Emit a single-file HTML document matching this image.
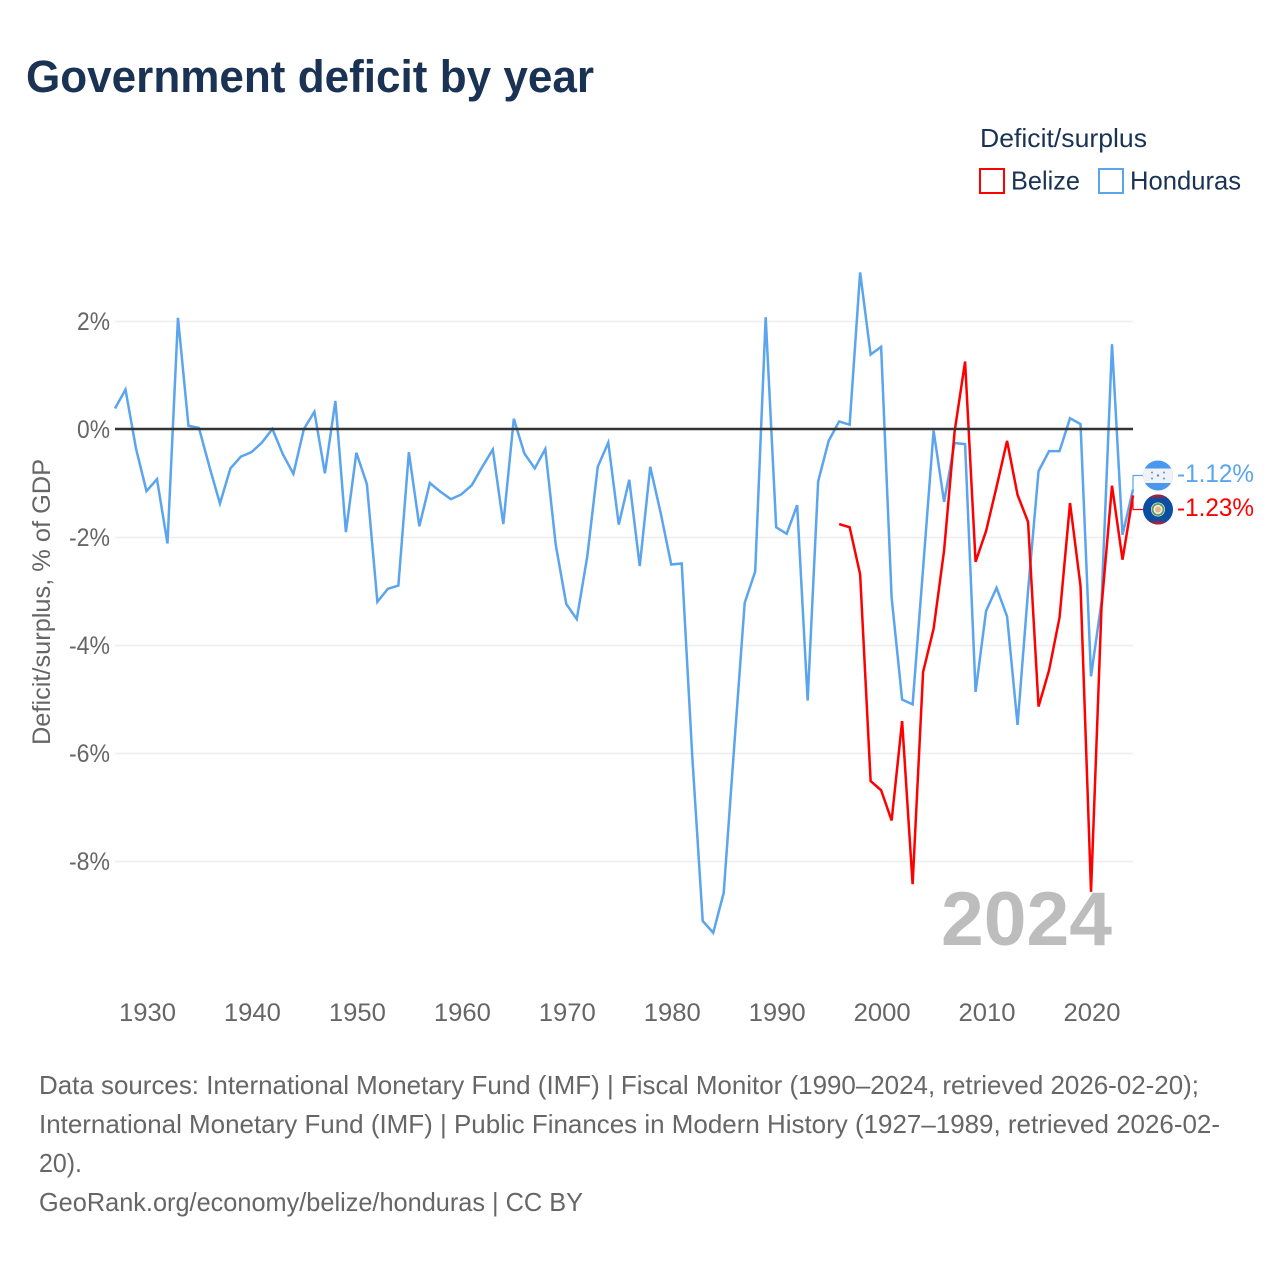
<!DOCTYPE html>
<html lang="en">
<head>
<meta charset="utf-8">
<title>Government deficit by year</title>
<style>
html,body{margin:0;padding:0;background:#fff;width:1280px;height:1280px;overflow:hidden}
svg{display:block;font-family:"Liberation Sans",sans-serif}
</style>
</head>
<body>
<svg id="chart" width="1280" height="1280" viewBox="0 0 1280 1280" xmlns="http://www.w3.org/2000/svg">
  <rect width="1280" height="1280" fill="#fff"/>
  <text x="26" y="92" font-size="45" font-weight="bold" fill="#1a3354" textLength="568" lengthAdjust="spacingAndGlyphs">Government deficit by year</text>

  <g>
    <text x="980" y="147" font-size="26" fill="#1a3354" textLength="167" lengthAdjust="spacingAndGlyphs">Deficit/surplus</text>
    <rect x="980" y="169" width="24" height="24" fill="#fff" stroke="#ff0000" stroke-width="2"/>
    <text x="1011" y="189.5" font-size="26" fill="#1a3354" textLength="69" lengthAdjust="spacingAndGlyphs">Belize</text>
    <rect x="1099" y="169" width="24" height="24" fill="#fff" stroke="#5ba4ee" stroke-width="2"/>
    <text x="1130" y="189.5" font-size="26" fill="#1a3354" textLength="111" lengthAdjust="spacingAndGlyphs">Honduras</text>
  </g>

  <text transform="translate(50,745) rotate(-90)" font-size="25" fill="#666" textLength="286" lengthAdjust="spacingAndGlyphs">Deficit/surplus, % of GDP</text>

  <g id="grid"></g>
  <g id="yticks"></g>
  <g id="xticks"></g>
  <text x="941" y="945" font-size="76" font-weight="bold" fill="#bdbdbd" textLength="171" lengthAdjust="spacingAndGlyphs">2024</text>
  <g id="series"></g>
  <line id="zero" x1="115" x2="1133" stroke="#333" stroke-width="2.5"/>
  <g id="leaders"></g>

  <defs>
    <clipPath id="clip-hn"><circle cx="1158" cy="475.5" r="15"/></clipPath>
    <clipPath id="clip-bz"><circle cx="1158" cy="509.5" r="15"/></clipPath>
  </defs>
  <g clip-path="url(#clip-hn)">
    <rect x="1143" y="460.5" width="30" height="30" fill="#4a97ee"/>
    <rect x="1143" y="468.5" width="30" height="14.5" fill="#f0f2f5"/>
    <circle cx="1158" cy="475.5" r="1.2" fill="#4a97ee"/>
    <circle cx="1152" cy="472.5" r="1" fill="#4a97ee"/>
    <circle cx="1164" cy="472.5" r="1" fill="#4a97ee"/>
    <circle cx="1152" cy="478.5" r="1" fill="#4a97ee"/>
    <circle cx="1164" cy="478.5" r="1" fill="#4a97ee"/>
  </g>
  <g clip-path="url(#clip-bz)">
    <rect x="1143" y="494.5" width="30" height="30" fill="#0b4ea2"/>
    <rect x="1143" y="494.5" width="30" height="3" fill="#a8213a"/>
    <rect x="1143" y="521.5" width="30" height="3" fill="#a8213a"/>
    <circle cx="1158" cy="509.5" r="7" fill="#eef0e6"/>
    <circle cx="1158" cy="509.5" r="5.5" fill="none" stroke="#5f9a5a" stroke-width="1.8"/>
    <circle cx="1158" cy="509.5" r="3" fill="#e8b48c"/>
  </g>
  <g id="endlabels"></g>

  <g font-size="26" fill="#666">
    <text x="39" y="1094" textLength="1160" lengthAdjust="spacingAndGlyphs">Data sources: International Monetary Fund (IMF) | Fiscal Monitor (1990–2024, retrieved 2026-02-20);</text>
    <text x="39" y="1133" textLength="1181" lengthAdjust="spacingAndGlyphs">International Monetary Fund (IMF) | Public Finances in Modern History (1927–1989, retrieved 2026-02-</text>
    <text x="39" y="1172" textLength="43" lengthAdjust="spacingAndGlyphs">20).</text>
    <text x="39" y="1211" textLength="544" lengthAdjust="spacingAndGlyphs">GeoRank.org/economy/belize/honduras | CC BY</text>
  </g>
</svg>
<script>
const yTicks = [2, 0, -2, -4, -6, -8];
const xTicks = [1930, 1940, 1950, 1960, 1970, 1980, 1990, 2000, 2010, 2020];
const hondurasStartYear = 1927;
const hondurasValues = [
  0.38, 0.73, -0.36, -1.15, -0.93, -2.12, 2.06, 0.06, 0.02, -0.70,
  -1.38, -0.73, -0.51, -0.43, -0.25, 0.00, -0.47, -0.83, 0.00, 0.32,
  -0.82, 0.52, -1.91, -0.44, -1.02, -3.20, -2.96, -2.90, -0.43, -1.80,
  -1.00, -1.16, -1.30, -1.21, -1.04, -0.70, -0.38, -1.76, 0.19, -0.45,
  -0.73, -0.37, -2.15, -3.24, -3.52, -2.36, -0.70, -0.25, -1.77, -0.94,
  -2.54, -0.70, -1.56, -2.51, -2.49, -6.05, -9.11, -9.33, -8.59, -5.88,
  -3.22, -2.64, 2.07, -1.82, -1.94, -1.41, -5.03, -0.97, -0.22, 0.14,
  0.08, 2.90, 1.38, 1.52, -3.12, -5.01, -5.10, -2.58, -0.03, -1.35,
  -0.26, -0.28, -4.87, -3.37, -2.94, -3.47, -5.48, -3.00, -0.78, -0.41,
  -0.41, 0.20, 0.09, -4.58, -3.20, 1.57, -1.96, -1.12
];
const belizeStartYear = 1996;
const belizeValues = [
  -1.76, -1.82, -2.69, -6.52, -6.69, -7.25, -5.41, -8.43, -4.50, -3.70,
  -2.25, -0.05, 1.25, -2.46, -1.89, -1.07, -0.22, -1.22, -1.72, -5.14,
  -4.47, -3.49, -1.37, -2.91, -8.57, -3.30, -1.05, -2.42, -1.23
];
const hondurasLabel = '-1.12%';
const belizeLabel = '-1.23%';

const NS = 'http://www.w3.org/2000/svg';
function xScale(year) { return 115 + (year - 1927) * (1133 - 115) / (2024 - 1927); }
function yScale(v) { return 429 - v * 54; }
function make(tag, attrs, parent) {
  const el = document.createElementNS(NS, tag);
  for (const k in attrs) el.setAttribute(k, attrs[k]);
  parent.appendChild(el);
  return el;
}
const grid = document.getElementById('grid');
const yG = document.getElementById('yticks');
const xG = document.getElementById('xticks');
const seriesG = document.getElementById('series');
const leaders = document.getElementById('leaders');
const endLabels = document.getElementById('endlabels');

yTicks.forEach(function (t) {
  if (t !== 0) {
    const g = make('line', { x1: 115, x2: 1133, y1: yScale(t) + 0.5, y2: yScale(t) + 0.5, stroke: '#eeeeee', 'stroke-width': 1.5 }, grid);
    
    
  }
  const w = t < 0 ? 41 : 33;
  const label = make('text', { x: 110 - w, y: yScale(t) + 9, 'font-size': 25, fill: '#666', textLength: w, lengthAdjust: 'spacingAndGlyphs' }, yG);
  label.textContent = t + '%';
  
  
});
document.getElementById('zero').setAttribute('y1', yScale(0));
document.getElementById('zero').setAttribute('y2', yScale(0));

xTicks.forEach(function (t) {
  const label = make('text', { x: xScale(t) - 27.5, y: 1021, 'font-size': 25, fill: '#666', textLength: 57, lengthAdjust: 'spacingAndGlyphs' }, xG);
  label.textContent = String(t);
  
  
});

function linePoints(start, values) {
  return values.map(function (v, i) {
    return xScale(start + i).toFixed(2) + ',' + yScale(v).toFixed(2);
  }).join(' ');
}
const hondurasLine = make('polyline', { points: linePoints(hondurasStartYear, hondurasValues), fill: 'none', stroke: '#5ba4ee', 'stroke-width': 2.5, 'stroke-linejoin': 'miter' }, seriesG);


const belizeLine = make('polyline', { points: linePoints(belizeStartYear, belizeValues), fill: 'none', stroke: '#ff0000', 'stroke-width': 2.5, 'stroke-linejoin': 'miter' }, seriesG);



const lastHn = yScale(hondurasValues[hondurasValues.length - 1]);
const lastBz = yScale(belizeValues[belizeValues.length - 1]);
const leadHn = make('polyline', { points: '1133,' + lastHn + ' 1133,475.5 1143,475.5', fill: 'none', stroke: '#5ba4ee', 'stroke-width': 1.2 }, leaders);


const leadBz = make('polyline', { points: '1133,' + lastBz + ' 1133,509.5 1143,509.5', fill: 'none', stroke: '#ff0000', 'stroke-width': 1.2 }, leaders);



const hnText = make('text', { x: 1177, y: 482, 'font-size': 25, fill: '#5ba4ee', textLength: 77, lengthAdjust: 'spacingAndGlyphs' }, endLabels);
hnText.textContent = hondurasLabel;


const bzText = make('text', { x: 1177, y: 516, 'font-size': 25, fill: '#ff0000', textLength: 77, lengthAdjust: 'spacingAndGlyphs' }, endLabels);
bzText.textContent = belizeLabel;


</script>
</body>
</html>
